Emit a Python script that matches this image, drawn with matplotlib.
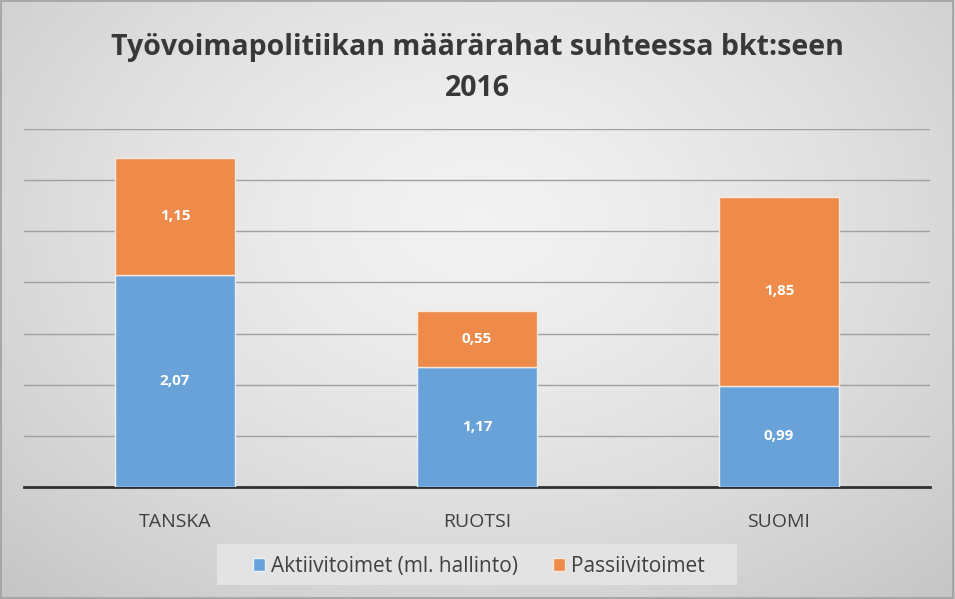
import matplotlib
matplotlib.use('Agg')

import matplotlib.pyplot as plt
import numpy as np

# Data
maat = ["TANSKA", "RUOTSI", "SUOMI"]
aktiivi = [2.07, 1.17, 0.99]
passiivi = [1.15, 0.55, 1.85]
sarjat = ["Aktiivitoimet (ml. hallinto)", "Passiivitoimet"]

plt.rcParams['font.family'] = ['Open Sans', 'DejaVu Sans']

fig = plt.figure(figsize=(9.55, 5.99), dpi=100)

# Radial gradient background
bg = fig.add_axes([0, 0, 1, 1], zorder=-10)
yy, xx = np.mgrid[0:599, 0:955]
r = np.sqrt(((xx - 478) / 680.0) ** 2 + ((yy - 220) / 500.0) ** 2)
shade = 0.95 - 0.17 * np.clip(r, 0, 1) ** 1.4
bg.imshow(np.dstack([shade] * 3), aspect='auto', extent=[0, 1, 0, 1])
bg.set_axis_off()
fig.patches.append(plt.Rectangle((0.001, 0.001), 0.997, 0.997, transform=fig.transFigure,
                                 fill=False, edgecolor='#a0a0a0', linewidth=1.2))

ax = fig.add_axes([24 / 955, 112 / 599, 906 / 955, 358 / 599])
ax.patch.set_alpha(0)

x = np.arange(len(maat))
blue = '#69a2d9'
orange = '#ee8b4b'
b1 = ax.bar(x, aktiivi, width=0.4, color=blue, edgecolor='#e8f0f8', linewidth=1, label=sarjat[0], zorder=3)
b2 = ax.bar(x, passiivi, width=0.4, bottom=aktiivi, color=orange, edgecolor='#f8e8dc', linewidth=1,
            label=sarjat[1], zorder=3)

for i in range(len(maat)):
    ax.text(x[i], aktiivi[i] / 2, f"{aktiivi[i]:.2f}".replace('.', ','), ha='center', va='center',
            color='white', fontsize=11, fontweight='bold', zorder=4)
    ax.text(x[i], aktiivi[i] + passiivi[i] / 2, f"{passiivi[i]:.2f}".replace('.', ','), ha='center',
            va='center', color='white', fontsize=11, fontweight='bold', zorder=4)

ax.set_xlim(-0.5, 2.5)
ax.set_ylim(0, 3.5)
ax.set_yticks(np.arange(0.5, 3.6, 0.5))
ax.yaxis.grid(True, color='#a0a0a0', linewidth=1, zorder=0)
ax.tick_params(axis='y', left=False, labelleft=False)
ax.tick_params(axis='x', length=0, pad=19, labelsize=14, labelcolor='#404040')
ax.set_xticks(x)
ax.set_xticklabels(maat)
for s in ['top', 'right', 'left']:
    ax.spines[s].set_visible(False)
ax.spines['bottom'].set_color('#303030')
ax.spines['bottom'].set_linewidth(2)

fig.text(0.5, 1 - 68 / 599, "Työvoimapolitiikan määrärahat suhteessa bkt:seen\n2016", ha='center',
         va='center', fontsize=20.5, fontweight='bold', color='#383838', linespacing=1.5)

# Legend box
fig.patches.append(plt.Rectangle((217 / 955, 14 / 599), 520 / 955, 41 / 599, transform=fig.transFigure,
                                 facecolor='#e3e3e3', edgecolor='none', zorder=1))
leg = fig.legend(handles=[b1, b2], loc='center', bbox_to_anchor=(479 / 955, 32.5 / 599), ncol=2,
                 fontsize=15, frameon=False, handlelength=0.55, handleheight=0.55,
                 handletextpad=0.3, columnspacing=1.7)
for t in leg.get_texts():
    t.set_color('#404040')

plt.savefig("out.png", dpi=100)
plt.close()
